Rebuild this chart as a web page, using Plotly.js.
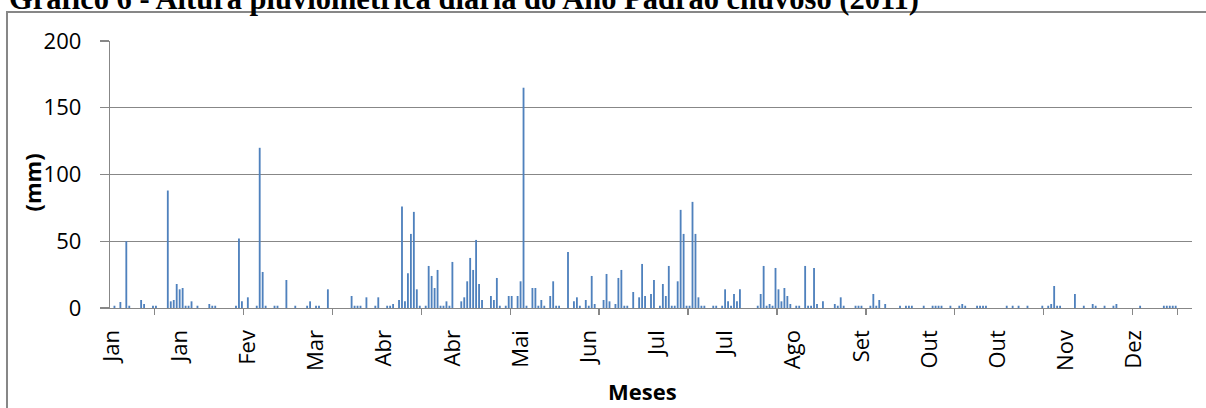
<!DOCTYPE html>
<html>
<head>
<meta charset="utf-8">
<script src="https://cdn.plot.ly/plotly-3.0.1.min.js"></script>
<style>
  html, body { margin: 0; padding: 0; background: #fff; }
  #chart { width: 1206px; height: 408px; }
</style>
</head>
<body>
<div id="chart"></div>
<script>
// Day of year (1..365) with rainfall, and the daily rainfall in mm
const rainDays = [
  2,4,6,7,11,12,15,16,20,21,22,23,24,25,26,27,28,30,34,35,36,43,44,45,47,50,51,52,53,56,57,60,63,67,68,70,71,74,82,83,84,85,87,
  90,91,94,95,96,98,99,100,101,102,103,104,105,107,108,109,110,111,112,113,114,115,116,119,120,121,122,123,124,125,126,129,130,131,132,134,135,136,138,139,140,141,143,144,145,146,147,149,150,151,152,155,157,158,159,161,162,163,164,167,168,169,171,172,173,174,175,177,179,180,181,
  183,184,186,187,188,189,190,191,192,193,194,195,196,197,198,199,200,201,204,205,207,208,209,210,211,212,213,219,220,221,222,223,224,225,226,227,228,229,230,232,233,235,236,237,238,239,241,245,246,247,248,252,253,254,257,258,259,260,262,267,269,270,271,
  275,278,279,280,281,284,287,288,289,293,294,295,296,303,305,307,310,315,317,318,319,320,321,326,329,332,333,336,339,340,348,356,357,358,359,360
];
const rainMm = [
  1.7,4.5,50,1.7,6,3,1.7,1.7,88,5,6,18,14,15,1.7,1.7,5,1.7,3,1.7,1.7,1.7,52,5,8,1.7,120,27,1.7,1.7,1.7,21,1.7,1.7,5,1.7,1.7,14,9,1.7,1.7,1.7,8,
  1.7,8,1.7,1.7,3,6,76,5,26,55.5,72,14,1.7,1.7,31.5,24,15,28.5,1.7,1.7,5,1.7,34.5,5,8,20,37.5,28.5,51,18,6,9,6,22.5,1.7,1.7,9,9,9,20,165,1.7,15,15,1.7,6,1.7,9,20,1.7,1.7,42,5,8,1.7,6,1.7,24,3,6,25.5,5,3,22.5,28.5,1.7,1.7,12,8,33,9,
  10.5,21,1.7,18,9,31.5,1.7,1.7,20,73.5,55.5,1.7,1.7,79.5,55.5,8,1.7,1.7,1.7,1.7,1.7,14,5,1.7,10.5,5,14,1.7,10.5,31.5,1.7,3,1.7,30,14,5,15,9,3,1.7,1.7,31.5,1.7,1.7,30,3,5,3,1.7,8,1.7,1.7,1.7,1.7,1.7,10.5,1.7,6,3,1.7,1.7,1.7,1.7,
  1.7,1.7,1.7,1.7,1.7,1.7,1.7,3,1.7,1.7,1.7,1.7,1.7,1.7,1.7,1.7,1.7,1.7,1.7,3,16.5,1.7,1.7,10.5,1.7,3,1.7,1.7,1.7,3,1.7,1.7,1.7,1.7,1.7,1.7
];
// Category labels (every 23rd day) and tick-mark days (every 30th)
const labelDays = [1,24,47,70,93,116,139,162,185,208,231,254,277,300,323,346];
const labelText = ['Jan','Jan','Fev','Mar','Abr','Abr','Mai','Jun','Jul','Jul','Ago','Set','Out','Out','Nov','Dez'];
const tickMarkDays = [15.5,45.5,75.5,105.5,135.5,165.5,195.5,225.5,255.5,285.5,315.5,345.5,360.5];
const yTicks = [0,50,100,150,200];

const grey = '#878787';
const sans = 'Open Sans, Liberation Sans, sans-serif';

const traces = [
  {
    type: 'bar',
    x: rainDays,
    y: rainMm,
    marker: { color: '#4F81BD', line: { width: 0 } },
    hoverinfo: 'x+y',
    showlegend: false
  },
  {
    type: 'scatter', mode: 'markers',
    x: [], y: [], xaxis: 'x2', yaxis: 'y',
    showlegend: false, hoverinfo: 'skip'
  }
];

const layout = {
  width: 1206, height: 408,
  margin: { l: 110, r: 14, t: 41, b: 100, pad: 0 },
  paper_bgcolor: '#fff', plot_bgcolor: '#fff',
  bargap: 0.38,
  showlegend: false,
  xaxis: {
    range: [0.5, 365.5],
    tickmode: 'array', tickvals: labelDays, ticktext: labelText,
    tickangle: -90, ticks: '',
    ticklabelstandoff: 12,
    tickfont: { family: sans, size: 22, color: '#000' },
    showgrid: false, zeroline: false,
    showline: true, linecolor: grey, linewidth: 1.3,
    fixedrange: true
  },
  xaxis2: {
    overlaying: 'x', anchor: 'y', side: 'bottom',
    range: [0.5, 365.5],
    tickmode: 'array', tickvals: tickMarkDays,
    ticks: 'outside', ticklen: 6, tickwidth: 1.3, tickcolor: grey,
    showticklabels: false, showgrid: false, zeroline: false, showline: false,
    fixedrange: true
  },
  yaxis: {
    range: [0, 200],
    tickmode: 'array', tickvals: yTicks,
    ticks: 'outside', ticklen: 9, tickwidth: 1.3, tickcolor: grey,
    ticklabelstandoff: 14,
    tickfont: { family: sans, size: 22, color: '#000' },
    showgrid: true, gridcolor: grey, gridwidth: 1.2,
    zeroline: false,
    showline: true, linecolor: grey, linewidth: 1.3,
    fixedrange: true
  },
  shapes: [
    { type: 'rect', xref: 'paper', yref: 'paper',
      x0: -0.0952, x1: 1.1, y0: -0.6, y1: 1.1086,
      line: { color: grey, width: 2 }, fillcolor: 'rgba(0,0,0,0)', layer: 'below' }
  ],
  annotations: [
    { text: 'Gráfico 6 - Altura pluviométrica diária do Ano Padrão chuvoso (2011)',
      xref: 'paper', yref: 'paper', x: -0.0952, y: 1.156,
      xanchor: 'left', yanchor: 'middle', showarrow: false,
      font: { family: 'Liberation Serif, Times New Roman, serif', size: 30.5, color: '#000', weight: 'bold' } },
    { text: '<b>(mm)</b>', textangle: -90,
      xref: 'paper', yref: 'paper', x: -0.0721, y: 0.47,
      xanchor: 'center', yanchor: 'middle', showarrow: false,
      font: { family: sans, size: 22, color: '#000' } },
    { text: '<b>Meses</b>',
      xref: 'paper', yref: 'paper', x: 0.4917, y: -0.3109,
      xanchor: 'center', yanchor: 'middle', showarrow: false,
      font: { family: sans, size: 22, color: '#000' } }
  ]
};

Plotly.newPlot('chart', traces, layout, { staticPlot: true, displayModeBar: false });
</script>
</body>
</html>
